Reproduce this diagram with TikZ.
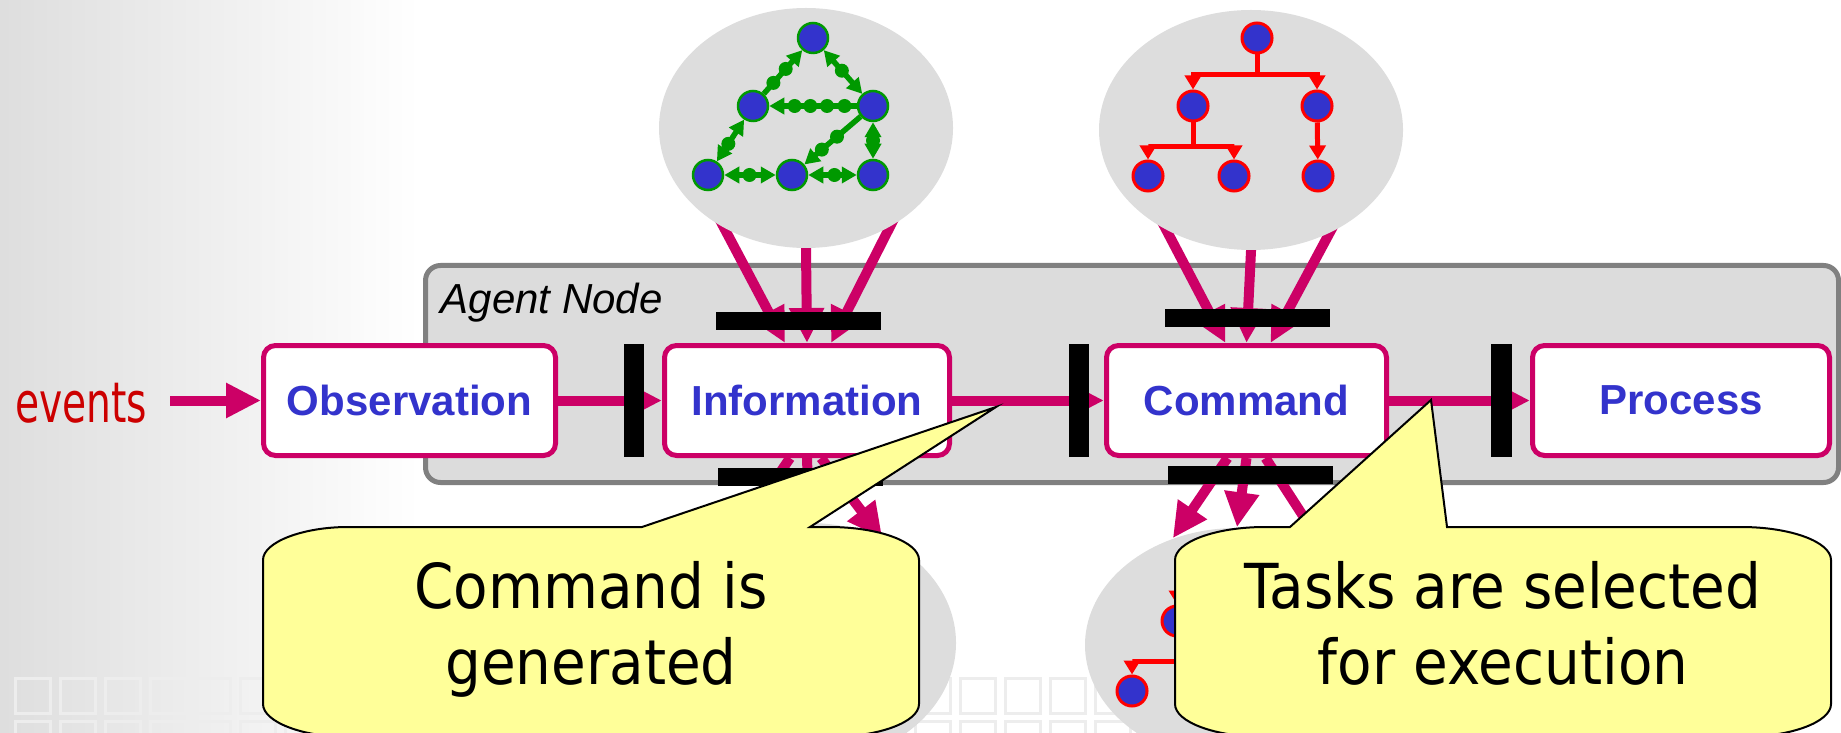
\documentclass[tikz,border=0pt]{standalone}
\usepackage{fontspec}
\setmainfont{Liberation Sans}
\newfontfamily\balloonfont[FakeStretch=0.91]{DejaVu Sans}
\newfontfamily\eventsfont[FakeStretch=0.7]{DejaVu Sans}
\usepackage{xcolor}
\usepackage{tikz}
\usetikzlibrary{arrows.meta,shapes.geometric}

\definecolor{flowmag}{HTML}{CC0066}
\definecolor{nodeblue}{HTML}{3333CC}
\definecolor{netgreen}{HTML}{009900}
\definecolor{treered}{HTML}{FF0000}
\definecolor{bubblegray}{HTML}{DDDDDD}
\definecolor{agentgray}{HTML}{DCDCDC}
\definecolor{agentedge}{HTML}{808080}
\definecolor{noteyellow}{HTML}{FFFF99}
\definecolor{eventred}{HTML}{CC0000}

\pgfdeclarelayer{backdrop}
\pgfdeclarelayer{links}
\pgfsetlayers{backdrop,links,main}

\begin{document}
\begin{tikzpicture}[x=0.1mm, y=-0.1mm,
        stage/.style={rectangle, draw=flowmag, line width=0.5mm, fill=white, rounded corners=1.2mm, minimum height=11mm, inner sep=0pt, text=nodeblue, font=\fontsize{4.2mm}{5mm}\selectfont\bfseries},
        gate/.style={rectangle, fill=black, inner sep=0pt},
        bubble/.style={ellipse, fill=bubblegray, inner sep=0pt, minimum height=24mm},
        flow/.style={draw=flowmag, line width=1mm, -{Triangle[length=3.5mm, width=3.3mm]}},
        gnode/.style={circle, fill=nodeblue, draw=netgreen, line width=0.25mm, minimum size=3mm, inner sep=0pt},
        tnode/.style={circle, fill=nodeblue, draw=treered, line width=0.3mm, minimum size=3mm, inner sep=0pt},
        gone/.style={draw=netgreen, line width=0.55mm, -{Triangle[length=1.5mm, width=1.6mm]}},
        gboth/.style={draw=netgreen, line width=0.55mm, {Triangle[length=1.5mm, width=1.6mm]}-{Triangle[length=1.5mm, width=1.6mm]}},
        gdot/.style={circle, fill=netgreen, inner sep=0pt, minimum size=1.4mm},
        tlink/.style={draw=treered, line width=0.5mm, -{Triangle[length=1.4mm, width=1.6mm]}},
        note/.style={draw=black, line width=0.2mm, fill=noteyellow},
        notetext/.style={inner sep=0pt, font=\balloonfont\fontsize{6.2mm}{7.6mm}\selectfont}
    ]
        \useasboundingbox (0,0) rectangle (1841,733);

        % Backdrop and agent frame
        \begin{pgfonlayer}{backdrop}
            \shade[left color=black!13, right color=white] (0,0) rectangle (420,733);
            \foreach \gx in {0,...,24}
                \foreach \gy in {0,1}
                    \draw[black!7, line width=0.3mm] (15+45*\gx,678+43*\gy) rectangle ++(35,35);
            \node[rectangle, rounded corners=1.5mm, draw=agentedge, line width=0.5mm, fill=agentgray, minimum width=141.3mm, minimum height=21.7mm] (agent) at (1132,374) {};
        \end{pgfonlayer}
        \node[anchor=base west, inner sep=0pt, font=\itshape\fontsize{4.2mm}{5mm}\selectfont] (agentlabel) at (440,314) {Agent Node};

        % Stages
        \node[anchor=east, inner xsep=2.2mm, inner ysep=0pt, text=eventred, font=\eventsfont\fontsize{5.6mm}{6mm}\selectfont] (events) at (170,403) {events};
        \node[stage, minimum width=29.2mm] (obs) at (409.5,400.5) {Observation};
        \node[stage, minimum width=28.5mm] (info) at (807,400.5) {Information};
        \node[stage, minimum width=28mm] (cmd) at (1246.5,400.5) {Command};
        \node[stage, minimum width=29.7mm] (proc) at (1681,400.5) {Process};

        % Bubbles
        \node[bubble, minimum width=29.4mm] (netA) at (806,128) {};
        \node[bubble, minimum width=30.4mm] (netB) at (1251,130) {};
        \node[bubble, minimum width=29.4mm] (netC) at (809,643) {};
        \node[bubble, minimum width=30.4mm, minimum height=23.4mm] (netD) at (1237,645) {};

        % Peer network
        \node[gnode] (g1) at (813,38) {};
        \node[gnode] (g2) at (753,106) {};
        \node[gnode] (g3) at (873,106) {};
        \node[gnode] (g4) at (708,175) {};
        \node[gnode] (g5) at (792,175) {};
        \node[gnode] (g6) at (873,175) {};
        \draw[gone] (g2) -- node[gdot, pos=0.25] {} node[gdot, pos=0.57] {} (g1);
        \draw[gboth] (g1) -- node[gdot, pos=0.47] {} (g3);
        \draw[gone] (g3) -- node[gdot, pos=0.14] {} node[gdot, pos=0.34] {} node[gdot, pos=0.53] {} node[gdot, pos=0.71] {} (g2);
        \draw[gone] (g3) -- node[gdot, pos=0.42] {} node[gdot, pos=0.69] {} (g5);
        \draw[gboth] (g3) -- node[gdot, pos=0.5] {} (g6);
        \draw[gboth] (g2) -- node[gdot, pos=0.58] {} (g4);
        \draw[gboth] (g4) -- node[gdot, pos=0.49] {} (g5);
        \draw[gboth] (g5) -- node[gdot, pos=0.54] {} (g6);

        % Command tree
        \node[tnode] (r1) at (1257,38) {};
        \node[tnode] (r2) at (1193,106) {};
        \node[tnode] (r3) at (1317,106) {};
        \node[tnode] (r4) at (1148,176) {};
        \node[tnode] (r5) at (1234,176) {};
        \node[tnode] (r6) at (1318,176) {};
        \draw[tlink] (r1.south) -- ++(0,20) -| (r2.north);
        \draw[tlink] (r1.south) -- ++(0,20) -| (r3.north);
        \draw[tlink] (r2.south) -- ++(0,24) -| (r4.north);
        \draw[tlink] (r2.south) -- ++(0,24) -| (r5.north);
        \draw[tlink] (r3) -- (r6);

        % Task tree
        \node[tnode] (s1) at (1241,553) {};
        \node[tnode] (s2) at (1177,621) {};
        \node[tnode] (s3) at (1301,621) {};
        \node[tnode] (s4) at (1132,691) {};
        \node[tnode] (s5) at (1218,691) {};
        \node[tnode] (s6) at (1302,691) {};
        \draw[tlink] (s1.south) -- ++(0,20) -| (s2.north);
        \draw[tlink] (s1.south) -- ++(0,20) -| (s3.north);
        \draw[tlink] (s2.south) -- ++(0,24) -| (s4.north);
        \draw[tlink] (s2.south) -- ++(0,24) -| (s5.north);
        \draw[tlink] (s3) -- (s6);

        % Arrows
        \begin{pgfonlayer}{links}
            \draw[flow] (events.east |- obs.west) -- (obs.west);
            \draw[flow] (obs) -- (info);
            \draw[flow] (info) -- (cmd);
            \draw[flow] (cmd) -- (proc);
            \draw[flow, shorten <=-3mm] (netA.231) -- ([xshift=-2.2mm]info.north);
            \draw[flow, shorten <=-3mm] (netA.south) -- (info.north);
            \draw[flow, shorten <=-3mm] (netA.310) -- ([xshift=2.4mm]info.north);
            \draw[flow, shorten <=-3mm] (netB.230) -- ([xshift=-2.1mm]cmd.north);
            \draw[flow, shorten <=-3mm] (netB.south) -- (cmd.north);
            \draw[flow, shorten <=-3mm] (netB.307) -- ([xshift=2.4mm]cmd.north);
            \draw[flow] ([xshift=-1.7mm]info.south) -- (netC.125);
            \draw[flow] (info.south) -- (netC.north);
            \draw[flow] ([xshift=1.4mm]info.south) -- (netC.55);
            \draw[flow] ([xshift=-1.9mm]cmd.south) -- (netD.121);
            \draw[flow] (cmd.south) -- (netD.north);
            \draw[flow] ([xshift=1.9mm]cmd.south) -- (netD.48);
        \end{pgfonlayer}

        % Gates
        \node[gate, minimum width=2mm, minimum height=11.3mm] (gate1) at (634,400.5) {};
        \node[gate, minimum width=2mm, minimum height=11.3mm] (gate2) at (1079,400.5) {};
        \node[gate, minimum width=2.1mm, minimum height=11.3mm] (gate3) at (1501.5,400.5) {};
        \node[gate, minimum width=16.5mm, minimum height=1.8mm] (infoin) at (798,321) {};
        \node[gate, minimum width=16.5mm, minimum height=1.8mm] (infoout) at (800,477) {};
        \node[gate, minimum width=16.5mm, minimum height=1.8mm] (cmdin) at (1247.5,318.5) {};
        \node[gate, minimum width=16.5mm, minimum height=1.8mm] (cmdout) at (1250,475) {};

        % Callouts
        \draw[note] (348,527) -- (642,527) -- (996,407) -- (810,527) -- (829,527)
            .. controls (879,527) and (919,542) .. (919,560) -- (919,704)
            .. controls (919,722) and (879,737) .. (829,737) -- (348,737)
            .. controls (303,737) and (263,722) .. (263,704) -- (263,560)
            .. controls (263,542) and (303,527) .. (348,527) -- cycle;
        \node[notetext, anchor=base] (gentext) at (591,608) {\begin{tabular}[t]{@{}c@{}}Command is\\generated\end{tabular}};

        \draw[note] (1265,527) -- (1290,527) -- (1431,400) -- (1447,527) -- (1741,527)
            .. controls (1791,527) and (1831,542) .. (1831,560) -- (1831,704)
            .. controls (1831,722) and (1791,737) .. (1741,737) -- (1265,737)
            .. controls (1215,737) and (1175,722) .. (1175,704) -- (1175,560)
            .. controls (1175,542) and (1215,527) .. (1265,527) -- cycle;
        \node[notetext, anchor=base] (tasktext) at (1503,608) {\begin{tabular}[t]{@{}c@{}}Tasks are selected\\for execution\end{tabular}};
    \end{tikzpicture}
\end{document}
